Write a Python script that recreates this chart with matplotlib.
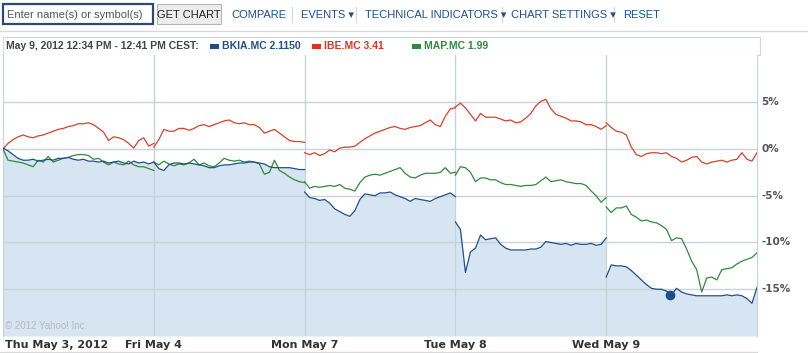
import matplotlib
matplotlib.use("Agg")
import matplotlib.pyplot as plt
from matplotlib.patches import Rectangle
import numpy as np

# day labels under the chart
day_labels = ["Thu May 3, 2012", "Fri May 4", "Mon May 7", "Tue May 8", "Wed May 9"]
y_ticks = [5, 0, -5, -10, -15]

# % change vs. May 3 open, sampled evenly through each trading day
bkia = [
    [0.1, -0.2, -0.6, -1.0, -1.2, -1.2, -1.1, -1.3, -1.2, -1.1, -1.2, -1.0, -1.0, -0.9, -1.1, -1.2,
     -1.1, -1.3, -1.3, -1.4, -1.3, -1.5, -1.4, -1.3, -1.5, -1.6, -1.3, -1.5, -1.4, -1.6, -1.4],
    [-1.4, -2.1, -2.3, -1.7, -1.5, -1.5, -1.6, -1.5, -1.6, -1.7, -1.8, -2.0, -2.0, -1.8, -1.7, -1.7,
     -1.6, -1.5, -1.5, -1.4, -1.4, -1.5, -1.6, -1.9, -2.0, -2.0, -2.0, -2.0, -2.1, -2.2, -2.2],
    [-4.6, -5.2, -5.3, -5.5, -5.4, -5.8, -6.4, -6.7, -7.0, -7.2, -6.6, -5.4, -4.8, -4.9, -5.0, -4.7,
     -4.7, -4.6, -4.9, -5.1, -5.3, -5.6, -5.3, -5.4, -5.5, -5.6, -5.3, -5.1, -4.9, -4.7, -5.1],
    [-7.8, -8.6, -13.2, -11.0, -10.6, -9.2, -9.7, -9.6, -9.5, -10.2, -10.6, -10.8, -10.8, -10.8, -10.8, -10.7,
     -10.7, -10.5, -9.9, -10.0, -10.1, -10.2, -10.1, -10.3, -10.1, -10.2, -10.2, -10.1, -10.3, -10.2, -9.5],
    [-13.7, -12.4, -12.5, -12.5, -12.6, -13.0, -13.5, -14.0, -14.5, -14.9, -15.0, -15.0, -15.2, -15.6, -14.9, -15.3,
     -15.5, -15.6, -15.7, -15.7, -15.7, -15.7, -15.7, -15.7, -15.6, -15.7, -15.6, -15.7, -16.0, -16.5, -14.8],
]
ibe = [
    [0.0, 0.6, 1.0, 1.3, 1.5, 1.3, 1.2, 1.4, 1.5, 1.7, 1.9, 2.1, 2.2, 2.4, 2.5, 2.7,
     2.7, 2.8, 2.6, 2.2, 1.8, 0.9, 1.3, 1.2, 1.0, 0.6, 0.1, 0.9, 1.2, 0.3, 0.6],
    [0.2, 1.0, 2.1, 1.9, 1.9, 2.2, 2.2, 2.0, 2.2, 2.5, 2.6, 2.4, 2.6, 2.8, 3.0, 3.1,
     2.8, 2.7, 2.8, 2.6, 2.6, 2.3, 1.7, 1.9, 2.1, 1.7, 1.3, 0.9, 0.8, 0.8, 0.7],
    [-0.4, -0.6, -0.4, -0.7, -0.5, -0.1, -0.3, 0.1, 0.2, 0.2, 0.3, 0.7, 1.1, 1.4, 1.7, 1.9,
     2.1, 2.3, 2.4, 2.2, 2.1, 2.3, 2.4, 2.5, 2.8, 3.1, 2.6, 2.4, 3.5, 4.3, 4.4],
    [4.5, 4.9, 4.4, 3.7, 3.0, 3.8, 3.4, 3.4, 3.4, 3.2, 3.0, 3.1, 2.8, 2.9, 3.3, 3.8,
     4.6, 5.1, 5.3, 4.3, 3.7, 3.5, 3.3, 3.0, 3.0, 2.9, 2.6, 2.6, 2.4, 2.1, 2.5],
    [2.8, 2.3, 1.9, 1.8, 1.5, 0.2, -0.6, -0.8, -0.5, -0.4, -0.4, -0.5, -0.4, -0.8, -1.0, -1.4,
     -1.2, -0.9, -0.8, -1.4, -1.6, -1.4, -1.3, -1.2, -1.4, -1.2, -1.1, -0.4, -1.1, -1.3, -0.4],
]
mapfre = [
    [0.0, -1.2, -1.3, -1.4, -1.5, -1.7, -1.9, -1.2, -1.4, -0.8, -1.4, -1.2, -1.0, -0.9, -0.7, -0.6,
     -0.6, -0.7, -1.1, -1.0, -1.4, -1.7, -1.4, -1.6, -1.7, -1.3, -1.7, -1.9, -1.9, -2.1, -2.3],
    [-1.4, -1.7, -1.3, -1.6, -1.8, -1.6, -1.7, -1.5, -1.1, -1.7, -1.5, -1.8, -1.9, -1.5, -1.0, -1.2,
     -1.3, -1.2, -1.4, -1.3, -1.4, -1.6, -2.7, -2.5, -1.2, -2.3, -2.6, -3.0, -3.3, -3.5, -3.6],
    [-3.5, -4.2, -4.0, -4.1, -4.0, -3.9, -4.0, -3.8, -4.2, -4.3, -4.5, -3.6, -3.0, -2.8, -2.7, -2.8,
     -2.6, -2.4, -2.2, -2.0, -2.6, -3.0, -3.1, -2.8, -2.6, -2.6, -2.6, -2.5, -2.0, -2.6, -2.5],
    [-2.8, -1.9, -2.0, -2.5, -3.5, -3.1, -3.1, -3.3, -3.3, -3.6, -3.8, -3.8, -3.9, -4.0, -3.9, -3.9,
     -3.8, -3.4, -3.0, -3.5, -3.4, -3.3, -3.5, -3.6, -3.7, -3.7, -3.9, -4.5, -5.0, -5.7, -5.2],
    [-6.2, -6.8, -6.3, -6.3, -6.1, -7.0, -7.3, -7.7, -7.6, -7.8, -7.9, -8.2, -8.6, -9.8, -9.5, -9.6,
     -10.7, -12.0, -12.9, -15.3, -13.8, -13.7, -14.0, -12.9, -12.8, -12.7, -12.3, -12.0, -11.8, -11.6, -11.1],
]
# news marker on BKIA (day position, value)
marker_day = 4.42
marker_val = -15.6

legend_items = [("BKIA.MC 2.1150", "#1f4f8a"), ("IBE.MC 3.41", "#d8361f"), ("MAP.MC 1.99", "#2f8a3a")]

blue = "#1f4f8a"
red = "#d8402a"
green = "#2f8a3a"
grid_c = "#c8d2db"

fig = plt.figure(figsize=(8.08, 3.53), dpi=100)

# page overlay in pixel coords for toolbar / header
page = fig.add_axes([0, 0, 1, 1])
page.set_xlim(0, 808)
page.set_ylim(353, 0)
page.axis("off")

# toolbar
page.add_patch(Rectangle((3, 4), 150, 20, fill=False, ec="#2b4a7a", lw=1.6))
page.text(7, 14.5, "Enter name(s) or symbol(s)", fontsize=8, family="Liberation Sans",
          color="#555555", va="center")
page.add_patch(Rectangle((157, 4), 64, 20, fc="#ededed", ec="#b5b5b5", lw=0.8))
page.text(189, 14.5, "GET CHART", fontsize=8, family="Liberation Sans",
          color="#222222", va="center", ha="center")
links = [(231, "COMPARE"), (301, "EVENTS \u25BE"), (365, "TECHNICAL INDICATORS \u25BE"),
         (511, "CHART SETTINGS \u25BE"), (623, "RESET")]
for lx, txt in links:
    page.text(lx, 14.5, txt, fontsize=8, family=["Liberation Sans", "DejaVu Sans"],
              color="#1d4f91", va="center")
for sx in [292, 356, 502, 614]:
    page.plot([sx, sx], [7, 22], color="#d5d5d5", lw=0.8)
page.plot([0, 808], [30.5, 30.5], color="#d8d8d8", lw=1)

# header box
page.add_patch(Rectangle((3, 37), 757, 18, fill=False, ec="#d0d6dc", lw=0.8))
page.text(6, 46, "May 9, 2012 12:34 PM - 12:41 PM CEST:", fontsize=7.5,
          family="Liberation Sans", color="#444444", va="center", weight="bold")
for (lbl, col), lx in zip(legend_items, [210, 312, 412]):
    page.add_patch(Rectangle((lx, 43.5), 9, 5, fc=col, ec="none"))
    page.text(lx + 12, 46, lbl, fontsize=7.5, family="Liberation Sans",
              color=col, va="center", weight="bold")

page.plot([0, 757], [352, 352], color="#d8d8d8", lw=1)

# main chart
ax = fig.add_axes([3 / 808, 17 / 353, 754 / 808, 281 / 353])
ax.set_xlim(0, 5)
ax.set_ylim(-20, 10.05)

xs_all, bk_all = [], []
for d in range(5):
    x = d + np.linspace(0, 1, len(bkia[d]))
    xs_all.extend(x)
    bk_all.extend(bkia[d])
ax.fill_between(xs_all, bk_all, -20, color="#d6e5f1", lw=0, zorder=1)

for d in range(5):
    x = d + np.linspace(0, 1, len(bkia[d]))
    ax.plot(x, bkia[d], color=blue, lw=0.9, zorder=4)
    ax.plot(d + np.linspace(0, 1, len(mapfre[d])), mapfre[d], color=green, lw=0.9, zorder=3)
    ax.plot(d + np.linspace(0, 1, len(ibe[d])), ibe[d], color=red, lw=0.9, zorder=3)

ax.plot([marker_day], [marker_val], "o", color=blue, ms=6, zorder=5)

for yv in y_ticks:
    ax.axhline(yv, color=grid_c, lw=1, zorder=2)
for d in range(1, 5):
    ax.axvline(d, color=grid_c, lw=1, zorder=2)

for s in ["top", "bottom"]:
    ax.spines[s].set_visible(False)
for s in ["left", "right"]:
    ax.spines[s].set_color(grid_c)

ax.set_xticks([])
ax.set_yticks([])

for yv in y_ticks:
    ax.text(5.03, yv, f"{yv}%", fontsize=7.5, color="#555555", weight="bold",
            va="center", ha="left", clip_on=False)

ax.text(0.01, -19.5, "\u00a9 2012 Yahoo! Inc.", fontsize=7, color="#b3bcc5",
        family="Liberation Sans", va="bottom")

for d, lbl in enumerate(day_labels):
    if d == 0:
        ax.text(0.01, -21, lbl, fontsize=8, weight="bold", color="#333333",
                ha="left", va="center", clip_on=False)
    else:
        ax.text(d, -21, lbl, fontsize=8, weight="bold", color="#333333",
                ha="center", va="center", clip_on=False)

fig.savefig("out.png", dpi=100)
